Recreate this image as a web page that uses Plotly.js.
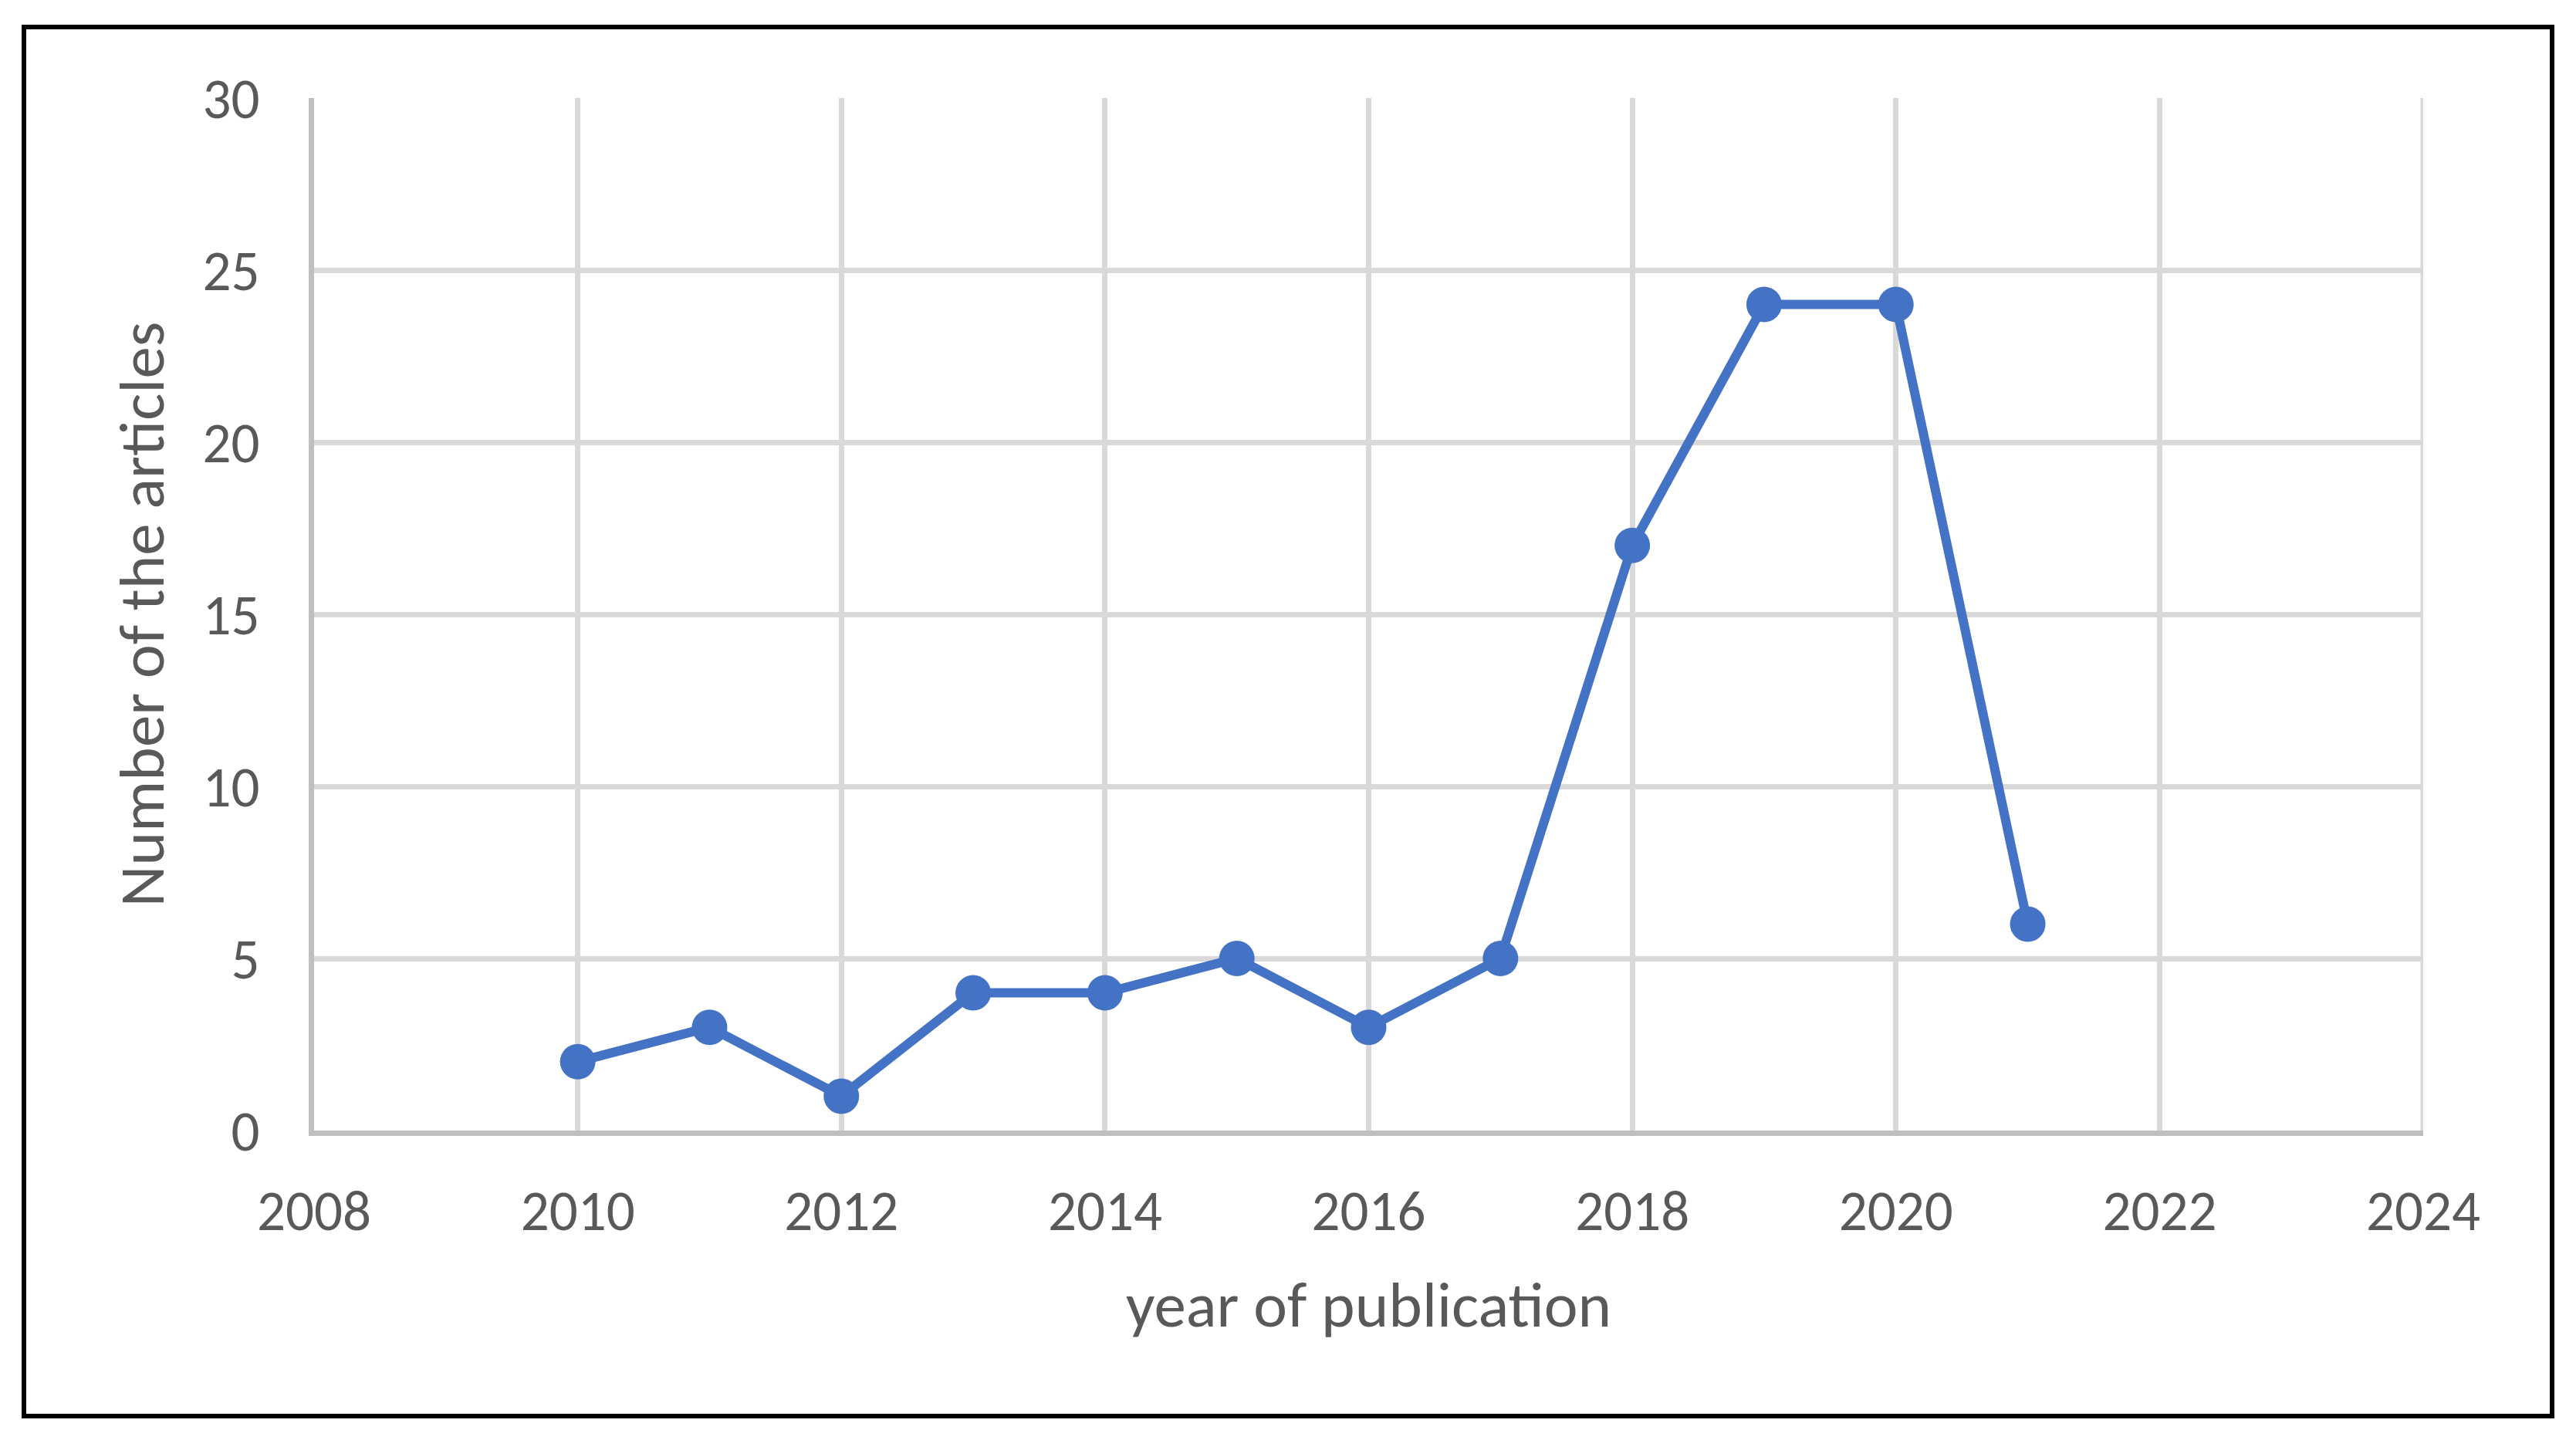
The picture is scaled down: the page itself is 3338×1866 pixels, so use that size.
<!DOCTYPE html>
<html>
<head>
<meta charset="utf-8">
<script src="https://cdn.plot.ly/plotly-3.0.1.min.js"></script>
<style>
  html, body { margin: 0; padding: 0; background: #ffffff; }
  #chart { width: 3338px; height: 1866px; position: absolute; left: 0; top: 0; }
  #frame { position: absolute; left: 28px; top: 32px; width: 3270px; height: 1794px;
           border: 6px solid #000000; pointer-events: none; }
</style>
</head>
<body>
<div id="chart"></div>
<div id="frame"></div>
<script>
// Data
const years = [2010, 2011, 2012, 2013, 2014, 2015, 2016, 2017, 2018, 2019, 2020, 2021];
const articles = [2, 3, 1, 4, 4, 5, 3, 5, 17, 24, 24, 6];
const xTicks = [2008, 2010, 2012, 2014, 2016, 2018, 2020, 2022, 2024];
const yTicks = [0, 5, 10, 15, 20, 25, 30];
const xTitle = "year of publication";
const yTitle = "Number of the articles";

const FONT = "Carlito, 'Liberation Sans Narrow', Roboto, sans-serif";
const TXT = "#595959";

const trace = {
  x: years,
  y: articles,
  type: "scatter",
  mode: "lines+markers",
  line: { color: "#4472C4", width: 12 },
  marker: { color: "#4472C4", size: 46 },
  cliponaxis: false,
  showlegend: false
};

const layout = {
  width: 3338,
  height: 1866,
  paper_bgcolor: "#ffffff",
  plot_bgcolor: "#ffffff",
  margin: { l: 407, r: 198, t: 127, b: 401, pad: 0 },
  font: { family: FONT, color: TXT, size: 72 },
  xaxis: {
    range: [2008, 2024],
    tickvals: xTicks,
    ticktext: xTicks.map(String),
    showgrid: true,
    gridcolor: "#d9d9d9",
    gridwidth: 7,
    zeroline: false,
    showline: true,
    linecolor: "#bfbfbf",
    linewidth: 7,
    ticks: "outside",
    ticklen: 0,
    ticklabelstandoff: 34,
    tickfont: { family: FONT, color: TXT, size: 73 },
    title: { text: xTitle, font: { family: FONT, color: TXT, size: 83 }, standoff: 51 },
    automargin: false
  },
  yaxis: {
    range: [0, 30],
    tickvals: yTicks,
    ticktext: yTicks.map(String),
    showgrid: true,
    gridcolor: "#d9d9d9",
    gridwidth: 7,
    zeroline: false,
    showline: true,
    linecolor: "#bfbfbf",
    linewidth: 7,
    ticks: "outside",
    ticklen: 0,
    ticklabelstandoff: 49,
    tickfont: { family: FONT, color: TXT, size: 73 },
    title: { text: yTitle, font: { family: FONT, color: TXT, size: 83 }, standoff: 25 },
    automargin: false
  },
  shapes: [
    { type: "line", xref: "x", yref: "y", x0: 2024, x1: 2024, y0: 0, y1: 30,
      line: { color: "#d9d9d9", width: 7 }, layer: "below" }
  ]
};

Plotly.newPlot("chart", [trace], layout, { staticPlot: true, displayModeBar: false });
</script>
</body>
</html>
